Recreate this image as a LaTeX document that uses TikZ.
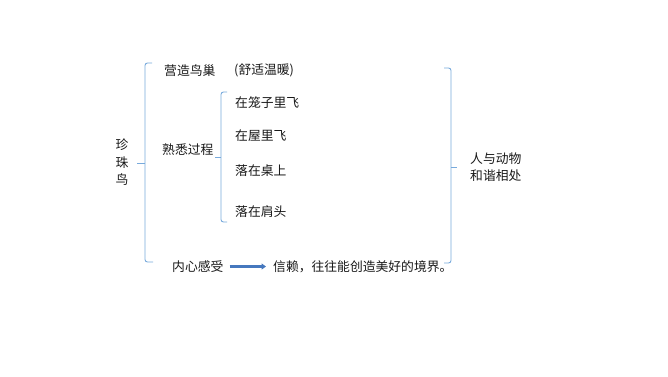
\documentclass[tikz,border=0pt]{standalone}
\usepackage{fontspec}
\setmainfont{Noto Sans CJK SC}
\usetikzlibrary{arrows.meta}
\definecolor{bracecol}{RGB}{120,170,220}
\definecolor{arrowcol}{RGB}{70,120,190}
\definecolor{txt}{RGB}{25,25,25}
\begin{document}
\begin{tikzpicture}[x=1pt,y=-1pt,
  lbl/.style={anchor=west,inner sep=0pt,font=\fontsize{12.8pt}{15pt}\selectfont,text=txt},
  bracepath/.style={draw=bracecol,line width=0.9pt,rounded corners=2.5pt},
  arr/.style={draw=arrowcol,line width=2.2pt,-{Triangle[length=4.5pt,width=6pt]}}]
\path[use as bounding box,fill=white] (0,0) rectangle (668,376);
% left big brace
\draw[bracepath] (152,63) -- (145,63) -- (145,262) -- (153,262);
\draw[bracepath,rounded corners=0pt] (145,163) -- (137,163);
% inner brace
\draw[bracepath] (227,92) -- (221,92) -- (221,222) -- (227,222);
\draw[bracepath,rounded corners=0pt] (221,157) -- (215,157);
% right brace
\draw[bracepath] (444,68) -- (451,68) -- (451,263) -- (444,263);
\draw[bracepath,rounded corners=0pt] (451,167) -- (457,167);
% texts
\node[lbl,anchor=center,align=center,font=\fontsize{12.8pt}{17.5pt}\selectfont] (zz) at (122,162.5) {珍\\珠\\鸟};
\node[lbl] (yz) at (164,70.5) {营造鸟巢};
\node[lbl] (ss) at (234,70.5) {(舒适温暖)};
\node[lbl] (sx) at (162,149.5) {熟悉过程};
\node[lbl] (a1) at (235,102.5) {在笼子里飞};
\node[lbl] (a2) at (235,135.5) {在屋里飞};
\node[lbl] (a3) at (235,170.5) {落在桌上};
\node[lbl] (a4) at (235,211.5) {落在肩头};
\node[lbl] (nx) at (172,266.5) {内心感受};
\node[lbl] (xl) at (273,266.5) {信赖，往往能创造美好的境界。};
\node[lbl,align=left,font=\fontsize{12.8pt}{17pt}\selectfont] (hx) at (470,167) {人与动物\\和谐相处};
\draw[arr,shorten <=6pt,shorten >=7pt] (nx.east) -- (xl.west);
\end{tikzpicture}
\end{document}
